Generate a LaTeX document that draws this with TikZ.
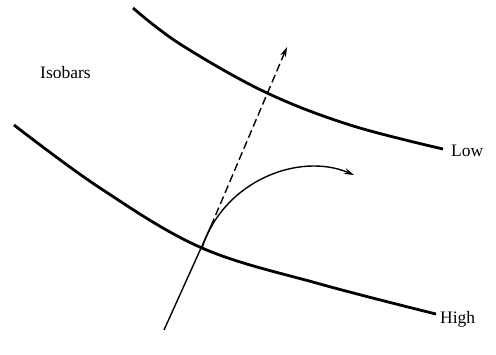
\documentclass[tikz,border=0pt]{standalone}
\usepackage{fontspec}
\setmainfont{Liberation Serif}
\usetikzlibrary{arrows.meta}
\begin{document}
\begin{tikzpicture}[x=1pt,y=-1pt,
  isobar/.style={line width=2.8pt},
  flow/.style={line width=1.4pt},
  lbl/.style={font=\fontsize{17.5}{20}\selectfont, inner sep=0pt},
  tip/.style={-{Stealth[length=10pt,width=6pt]}}]
\useasboundingbox (0,0) rectangle (496,354);
% isobars
\draw[isobar] plot[smooth,tension=0.6] coordinates {(133,8) (180,44) (265,92) (350,125) (443,149)};
\draw[isobar] plot[smooth,tension=0.6] coordinates {(14,125) (100,188) (202,248) (320,284) (436,314)};
% coordinates
\coordinate (base) at (164,330);
\coordinate (cross) at (202,248);
\coordinate (split) at (211,226);
\coordinate (top) at (287,47);
\coordinate (end) at (354,175);
% gradient direction
\draw[flow] (base) -- (split);
\draw[flow, dash pattern=on 8pt off 4pt, tip] (split) -- (top);
% wind
\draw[flow, tip] (cross) .. controls (224,180) and (300,152) .. (end);
% labels
\node[lbl, anchor=base west] (isob) at (40,78) {Isobars};
\node[lbl, anchor=base west] (low) at (451,156) {Low};
\node[lbl, anchor=base west] (high) at (440,323) {High};
\end{tikzpicture}
\end{document}
